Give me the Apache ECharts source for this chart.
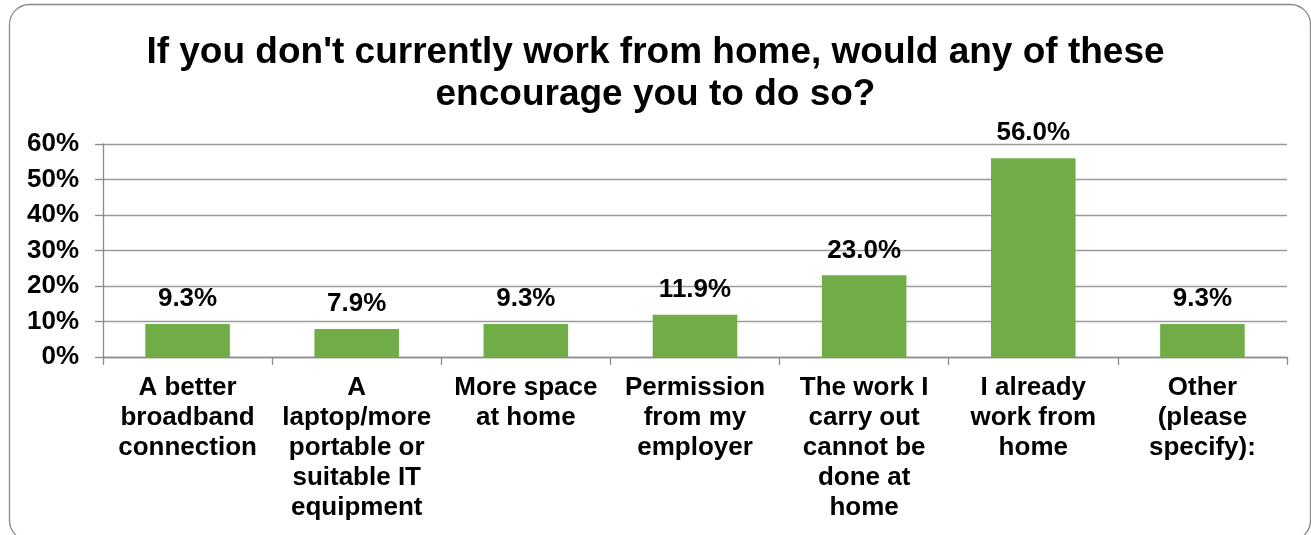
<!DOCTYPE html>
<html>
<head>
<meta charset="utf-8">
<script src="https://cdn.jsdelivr.net/npm/echarts@6/dist/echarts.min.js"></script>
<style>
  html, body { margin: 0; padding: 0; background: #fff; }
  #chart { width: 1311px; height: 535px; }
</style>
</head>
<body>
<div id="chart"></div>
<script>
// Answer options (line breaks as laid out under each bar)
const categories = [
  'A better\nbroadband\nconnection',
  'A\nlaptop/more\nportable or\nsuitable IT\nequipment',
  'More space\nat home',
  'Permission\nfrom my\nemployer',
  'The work I\ncarry out\ncannot be\ndone at\nhome',
  'I already\nwork from\nhome',
  'Other\n(please\nspecify):'
];
// Share of respondents, percent
const shares = [9.3, 7.9, 9.3, 11.9, 23.0, 56.0, 9.3];
const yTicks = { min: 0, max: 60, step: 10 };
const titleText = "If you don't currently work from home, would any of these\nencourage you to do so?";

const FONT = '"Liberation Sans", Arial, sans-serif';
const chart = echarts.init(document.getElementById('chart'), null, { renderer: 'canvas' });

chart.setOption({
  animation: false,
  backgroundColor: '#ffffff',
  graphic: [{
    type: 'rect',
    shape: { x: 9.5, y: 4.5, width: 1301, height: 536, r: 20 },
    style: { fill: 'none', stroke: '#8a8a8a', lineWidth: 1.3 },
    silent: true,
    z: 0
  }],
  title: {
    text: titleText,
    left: 'center',
    top: 27,
    textStyle: {
      fontFamily: FONT, fontSize: 37, fontWeight: 'bold', color: '#000',
      lineHeight: 42
    }
  },
  grid: { left: 103, right: 24, top: 144, bottom: 178, containLabel: false },
  xAxis: {
    type: 'category',
    data: categories,
    axisLine: { show: true, lineStyle: { color: '#8c8c8c', width: 1.3 } },
    axisTick: { show: true, length: 8, lineStyle: { color: '#8c8c8c', width: 1.3 } },
    axisLabel: {
      interval: 0, margin: 16,
      fontFamily: FONT, fontSize: 26, fontWeight: 'bold', color: '#000',
      lineHeight: 30
    }
  },
  yAxis: {
    type: 'value',
    min: yTicks.min, max: yTicks.max, interval: yTicks.step,
    axisLine: { show: true, lineStyle: { color: '#8c8c8c', width: 1.3 } },
    axisTick: { show: true, length: 8, lineStyle: { color: '#8c8c8c', width: 1.3 } },
    splitLine: { show: true, lineStyle: { color: '#9a9a9a', width: 1.3 } },
    axisLabel: {
      margin: 24,
      formatter: '{value}%',
      fontFamily: FONT, fontSize: 26, fontWeight: 'bold', color: '#000'
    }
  },
  series: [{
    type: 'bar',
    data: shares,
    barWidth: '50%',
    itemStyle: { color: '#70AD47' },
    label: {
      show: true, position: 'top', distance: 12,
      formatter: p => p.value.toFixed(1) + '%',
      fontFamily: FONT, fontSize: 26, fontWeight: 'bold', color: '#000'
    }
  }]
});
</script>
</body>
</html>
